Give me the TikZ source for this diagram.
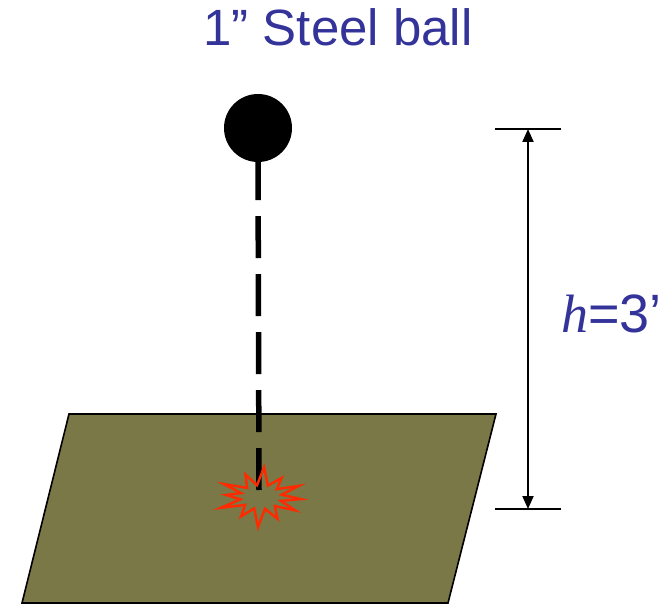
\documentclass[tikz,border=0pt]{standalone}
\usepackage{fontspec}
\setmainfont{Liberation Sans}
\newfontfamily\serifit{Liberation Serif}
\usepackage{tikz}
\usetikzlibrary{arrows.meta,positioning,calc}
\usepackage{xcolor}
\definecolor{inkblue}{HTML}{333399}
\definecolor{floor}{HTML}{7A7846}
\definecolor{splash}{HTML}{FF2A00}

\begin{document}
\begin{tikzpicture}[x=1pt, y=-1pt,
  label/.style={text=inkblue, inner sep=0pt},
  drop/.style={line width=5.5pt, dash pattern=on 42pt off 16pt},
  dim/.style={line width=2pt, {Stealth[length=13pt,width=11pt,inset=0pt]}-{Stealth[length=13pt,width=11pt,inset=0pt]}},
  tick/.style={line width=2pt}]
  \useasboundingbox (0,0) rectangle (667,604);

  % ground plate
  \draw[fill=floor, line width=1.6pt] (69,414) -- (496,414) -- (448,603) -- (22,603) -- cycle;

  % ball and its drop path
  \coordinate (impact) at (259,490);
  \node[circle, fill=black, minimum size=68pt, inner sep=0pt] (ball) at (258,128) {};
  \draw[drop] (ball.south) ++(0,-4) -- (impact);

  % splash where it hits
  \draw[splash, line width=2.4pt, line join=miter]
    plot[samples at={0,...,23}]
      ({261+ifthenelse(iseven(\x),40+5*sin(\x*83),21)*cos(\x*15+4)},
       {497+ifthenelse(iseven(\x),26+4*cos(\x*61),12)*sin(\x*15+4)}) -- cycle;

  % height dimension
  \coordinate (toptick) at (528,129);
  \coordinate (bottick) at (528,509);
  \draw[tick] ($(toptick)+(-33,0)$) -- ($(toptick)+(33,0)$);
  \draw[tick] ($(bottick)+(-33,0)$) -- ($(bottick)+(33,0)$);
  \draw[dim] (toptick) -- (bottick);

  \node[label, anchor=base west, font=\fontsize{54}{60}\selectfont] (hlabel) at (561,332)
    {{\serifit\itshape h}=3’};
  \node[label, anchor=base, font=\fontsize{51}{58}\selectfont] (title) at (338,46)
    {1” Steel ball};
\end{tikzpicture}
\end{document}
